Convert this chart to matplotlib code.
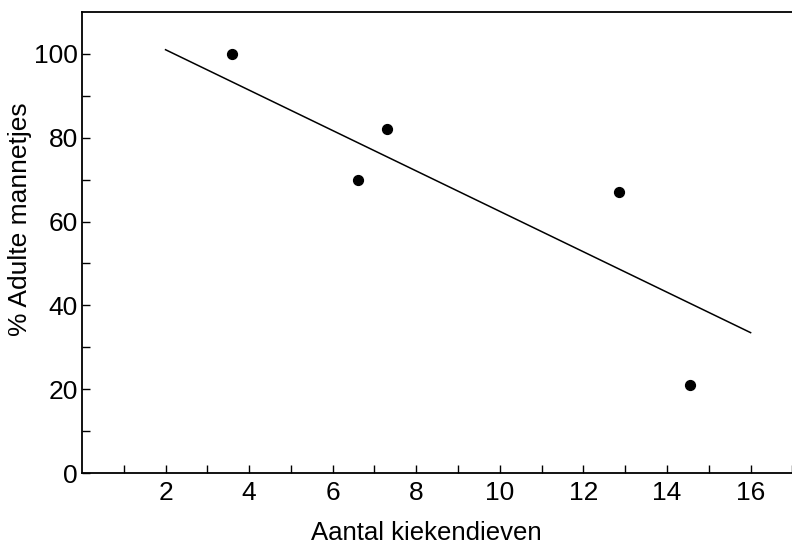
import matplotlib
matplotlib.use('Agg')
from matplotlib import pyplot as plt

# data
kiekendieven = [3.6, 6.6, 7.3, 12.85, 14.55]
adulte_mannetjes = [100, 70, 82, 67, 21]
fit_x = [2, 16]
fit_y = [101, 33.5]
x_labels = [2, 4, 6, 8, 10, 12, 14, 16]
y_labels = [0, 20, 40, 60, 80, 100]

plt.rcParams['font.family'] = ['Liberation Sans', 'DejaVu Sans']

fig = plt.figure(figsize=(7.92, 5.45), dpi=100)
ax = fig.add_axes([0.1035, 0.132, 0.897, 0.846])

ax.plot(fit_x, fit_y, c='black', lw=1.1)
ax.scatter(kiekendieven, adulte_mannetjes, s=50, c='black', zorder=3)

ax.set_xlim(0, 17)
ax.set_ylim(0, 110)
ax.set_xticks(x_labels)
ax.set_xticks(range(1, 18), minor=True)
ax.set_yticks(y_labels)
ax.set_yticks(range(10, 110, 10), minor=True)
ax.tick_params(direction='in', which='both', length=6, width=1, labelsize=19)
ax.tick_params(axis='x', pad=6)
ax.tick_params(axis='y', pad=3)
ax.spines['right'].set_visible(False)
for s in ['left', 'bottom', 'top']:
    ax.spines[s].set_linewidth(1.3)

ax.set_xlabel("Aantal kiekendieven", fontsize=18.5)
ax.set_ylabel("% Adulte mannetjes", fontsize=19)
ax.xaxis.set_label_coords(0.5 + (426 - 82 - 355) / 710, -0.103)
ax.yaxis.set_label_coords(-0.07, 0.55)

fig.savefig('out.png', dpi=100)
